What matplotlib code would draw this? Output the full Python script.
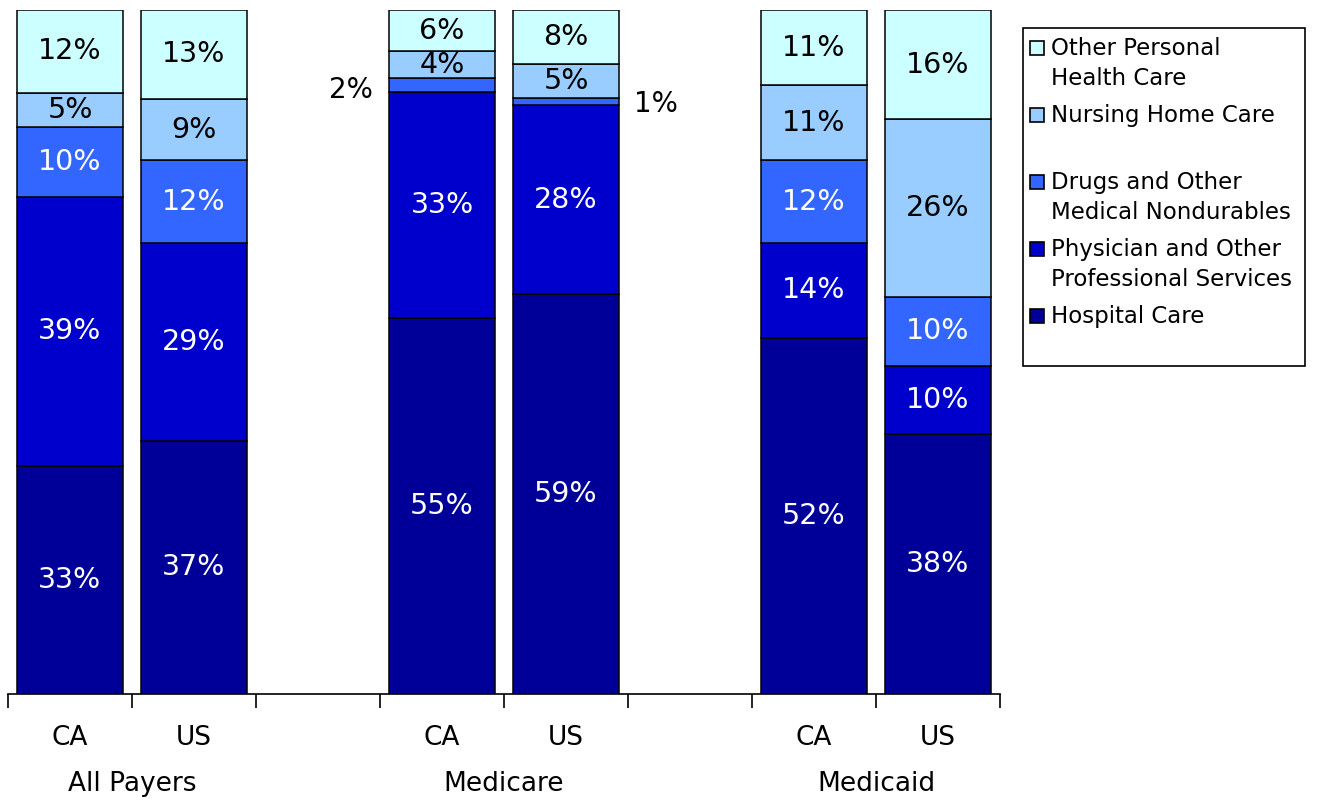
import matplotlib.pyplot as plt
import numpy as np

# slots on the x axis (blank slots separate the payer groups)
slot_labels = ['CA', 'US', '', 'CA', 'US', '', 'CA', 'US']
bar_slots = [0, 1, 3, 4, 6, 7]
groups = ['All Payers', 'Medicare', 'Medicaid']
group_pos = [1.0, 4.0, 7.0]

categories = ['Hospital Care', 'Physician and Other\nProfessional Services',
              'Drugs and Other\nMedical Nondurables', 'Nursing Home Care',
              'Other Personal\nHealth Care']
# percent of spending, one list per category, bars in slot order
hospital = [33, 37, 55, 59, 52, 38]
physician = [39, 29, 33, 28, 14, 10]
drugs = [10, 12, 2, 1, 12, 10]
nursing = [5, 9, 4, 5, 11, 26]
other = [12, 13, 6, 8, 11, 16]

colors = ['#000099', '#0000CC', '#3366FF', '#99CCFF', '#CCFFFF']
text_colors = ['white', 'white', 'white', 'black', 'black']

W, H = 1318, 801


def px(x, y):
    return x / W, 1 - y / H


def main():
    plt.rcParams['font.family'] = ['DejaVu Sans']
    fig = plt.figure(figsize=(W / 100, H / 100), dpi=100)
    ax = fig.add_axes([8 / W, 107 / H, 992 / W, 684 / H])

    data = np.array([hospital, physician, drugs, nursing, other], dtype=float)
    shares = data / data.sum(axis=0) * 100
    x = np.array(bar_slots) + 0.5
    width = 0.85
    bottom = np.zeros(len(x))
    for i, cat in enumerate(categories):
        ax.bar(x, shares[i], width, bottom=bottom, color=colors[i],
               edgecolor='black', linewidth=1.1)
        for j in range(len(x)):
            yc = bottom[j] + shares[i][j] / 2
            lab = '%d%%' % data[i][j]
            if data[i][j] < 3:
                if slot_labels[bar_slots[j]] == 'CA':
                    ax.text(x[j] - width / 2 - 0.13, yc - 0.7, lab, ha='right',
                            va='center', fontsize=20, color='black')
                else:
                    ax.text(x[j] + width / 2 + 0.12, yc - 0.4, lab, ha='left',
                            va='center', fontsize=20, color='black')
            else:
                ax.text(x[j], yc, lab, ha='center', va='center',
                        fontsize=20.5, color=text_colors[i])
        bottom += shares[i]

    ax.set_xlim(0, 8)
    ax.set_ylim(0, 100)
    for s in ['left', 'right', 'top']:
        ax.spines[s].set_visible(False)
    ax.spines['bottom'].set_linewidth(1.2)
    ax.set_yticks([])
    ax.set_xticks(np.arange(0, 9))
    ax.set_xticklabels([])
    ax.tick_params(axis='x', which='major', direction='out', length=10, width=1.2)
    ax.set_xticks(np.arange(8) + 0.5, minor=True)
    ax.set_xticklabels(slot_labels, minor=True, fontsize=19)
    ax.tick_params(axis='x', which='minor', length=0, pad=22)
    for g, gx in zip(groups, group_pos):
        ax.text(gx, -0.131, g, ha='center', va='center', fontsize=19,
                transform=ax.get_xaxis_transform())

    # legend drawn by hand to keep the even Excel-style spacing
    x0, y0 = px(1023, 366)
    x1, y1 = px(1305, 28)
    fig.patches.append(plt.Rectangle((x0, y0), x1 - x0, y1 - y0, fill=False,
                                     edgecolor='black', linewidth=1.2,
                                     transform=fig.transFigure))
    for k, i in enumerate(range(len(categories) - 1, -1, -1)):
        ytop = 48 + k * 67
        sx, sy = px(1030, ytop + 7)
        fig.patches.append(plt.Rectangle((sx, sy), 14 / W, 14 / H,
                                         facecolor=colors[i], edgecolor='black',
                                         linewidth=1.2, transform=fig.transFigure))
        tx, ty = px(1051, ytop - 11)
        fig.text(tx, ty, categories[i], ha='left', va='top', fontsize=16.5,
                 linespacing=1.38)

    fig.savefig('out.png', dpi=100)


if __name__ == '__main__':
    main()
